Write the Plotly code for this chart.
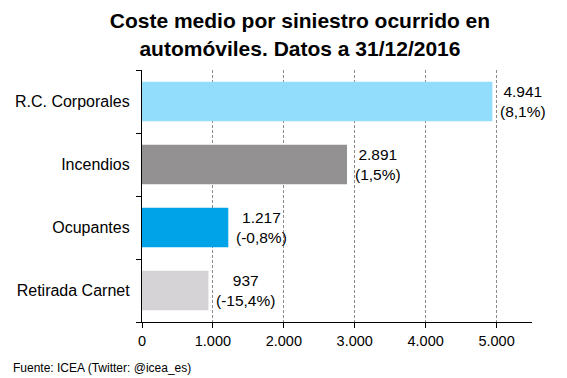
import plotly.graph_objects as go

categories = ["R.C. Corporales", "Incendios", "Ocupantes", "Retirada Carnet"]
values = [4941, 2891, 1217, 937]
changes = ["8,1%", "1,5%", "-0,8%", "-15,4%"]
colors = ["#92DDFC", "#939192", "#00A2E8", "#D5D3D5"]
tick_vals = [0, 1000, 2000, 3000, 4000, 5000]
tick_text = ["0", "1.000", "2.000", "3.000", "4.000", "5.000"]

def fmt(v):
    return f"{v:,}".replace(",", ".")

labels = [f"{fmt(v)}<br>({c})" for v, c in zip(values, changes)]

font_family = "Liberation Sans, Arial, sans-serif"

fig = go.Figure()
fig.add_trace(go.Bar(
    y=categories, x=values, orientation="h",
    marker=dict(color=colors, line=dict(width=0)),
    width=0.63,
    hoverinfo="x+y",
))

for cat, v, lab in zip(categories, values, labels):
    fig.add_annotation(
        x=v, y=cat, xref="x", yref="y", text=lab,
        xanchor="left", yanchor="middle", xshift=6, align="center",
        showarrow=False,
        font=dict(family=font_family, size=15.5, color="#000000"),
    )

fig.update_layout(
    width=567, height=378,
    paper_bgcolor="white", plot_bgcolor="white",
    margin=dict(l=142, r=35, t=70, b=56),
    showlegend=False,
    title=dict(
        text="<b>Coste medio por siniestro ocurrido en<br>automóviles. Datos a 31/12/2016</b>",
        x=0.529, xanchor="center", xref="container",
        y=0.925, yanchor="top", yref="container",
        font=dict(family=font_family, size=21, color="#000000"),
    ),
    font=dict(family=font_family, size=14, color="#000000"),
)
fig.add_annotation(
    text="Fuente: ICEA (Twitter: @icea_es)",
    xref="paper", yref="paper", x=-0.337, y=-0.145,
    xanchor="left", yanchor="top", showarrow=False,
    font=dict(family=font_family, size=12, color="#000000"),
)

fig.update_xaxes(
    range=[0, 5500], tickvals=tick_vals, ticktext=tick_text,
    showgrid=True, gridcolor="#8a8a8a", griddash="3px,2px", gridwidth=1,
    showline=True, linecolor="#000000", linewidth=1.3,
    ticks="outside", ticklen=5, tickcolor="#000000",
    zeroline=False,
    tickfont=dict(family=font_family, size=14.5),
)
fig.update_yaxes(
    categoryorder="array", categoryarray=categories[::-1],
    showline=True, linecolor="#000000", linewidth=1.3,
    ticks="outside", ticklen=5, tickcolor="#000000", tickson="boundaries",
    ticklabelstandoff=8,
    showgrid=False,
    tickfont=dict(family=font_family, size=16),
)

fig.write_html(
    "out.html",
    config={"displayModeBar": False},
    post_script="document.body.style.margin='0';document.body.style.overflow='hidden';",
)
